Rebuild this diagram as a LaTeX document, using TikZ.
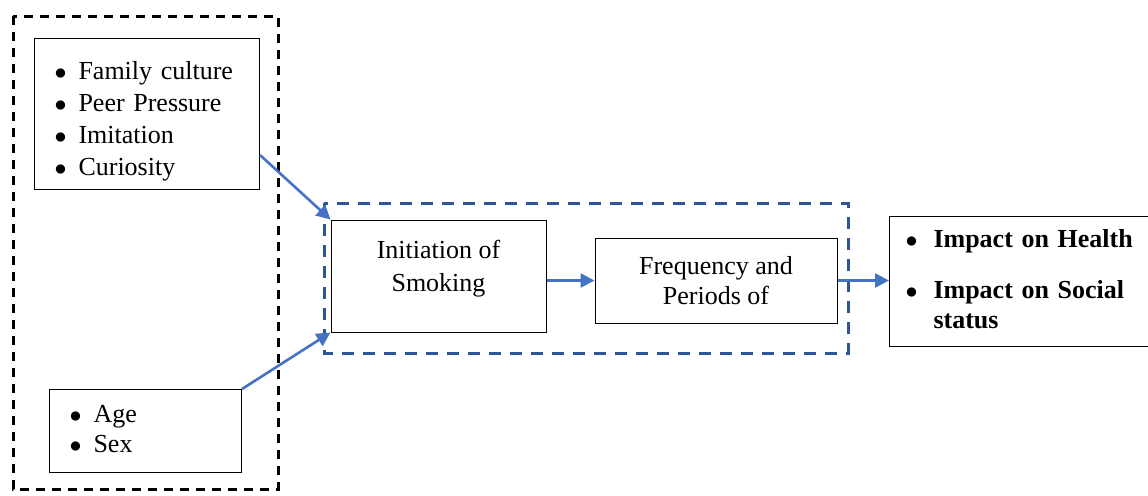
\documentclass[tikz,border=0pt]{standalone}
\usepackage{fontspec}
\setmainfont{Liberation Serif}
\usetikzlibrary{arrows.meta}
\definecolor{linkblue}{HTML}{4472C4}
\definecolor{frameblue}{HTML}{2F5597}
\newcommand\listbul{$\bullet$}
\tikzset{
	box/.style={draw, line width=0.5pt, inner ysep=0pt, font=\fontsize{13}{16}\selectfont},
	listbox/.style={box, align=left, anchor=north west},
	link/.style={draw=linkblue, line width=1.3pt, -{Triangle[length=7pt,width=7pt]}},
	blackframe/.style={line width=1.5pt, dash pattern=on 4.5pt off 3.5pt},
	blueframe/.style={draw=frameblue, line width=1.5pt, dash pattern=on 6pt off 4.5pt}
}
\begin{document}
\begin{tikzpicture}[x=0.5pt,y=-0.5pt]
		\useasboundingbox (0,0) rectangle (1148,495);
		% Rahmen
		\draw [blackframe] (13,16) rectangle (278,489);
		\draw [blueframe] (324,203) rectangle (848,353);
		% Einflussfaktoren
		\node (factors) [listbox, inner xsep=10pt, text width=92.5pt, minimum height=75.5pt] at (34,38) {%
			\begin{tabular}{@{}l@{\hspace{6pt}}l@{}}
				\listbul & Family culture\\
				\listbul & Peer Pressure\\
				\listbul & Imitation\\
				\listbul & Curiosity\\[-7pt]
			\end{tabular}};
		\node (demog) [listbox, inner xsep=10pt, text width=76pt, minimum height=41.5pt] at (49,389) {%
			\begin{tabular}{@{}l@{\hspace{6pt}}l@{}}
				\listbul & Age\\[-1pt]
				\listbul & Sex
			\end{tabular}};
		% Rauchen
		\node (init) [box, align=center, minimum width=107.5pt, minimum height=56pt] at (438.5,276) {Initiation of\\[0.5pt]Smoking\\[-6pt]\mbox{}};
		\node (freq) [box, align=center, minimum width=121pt, minimum height=42.5pt] at (716,280.5) {Frequency and\\[-1pt]Periods of};
		% Folgen
		\node (impact) [listbox, inner xsep=8pt, text width=114pt, minimum height=65pt] at (889,216) {%
			\begin{tabular}{@{}l@{\hspace{8pt}}l@{}}
				\listbul & \textbf{Impact on Health}\\[9.5pt]
				\listbul & \textbf{Impact on Social}\\[-1pt]
				& \textbf{status}
			\end{tabular}};
		% Pfeile
		\draw [link] ([yshift=17.5pt]factors.south east) -- (init.north west);
		\draw [link] (demog.north east) -- (init.south west);
		\draw [link] (freq.west -| init.east) -- (freq.west);
		\draw [link] (freq.east) -- (freq.east -| impact.west);
\end{tikzpicture}
\end{document}
